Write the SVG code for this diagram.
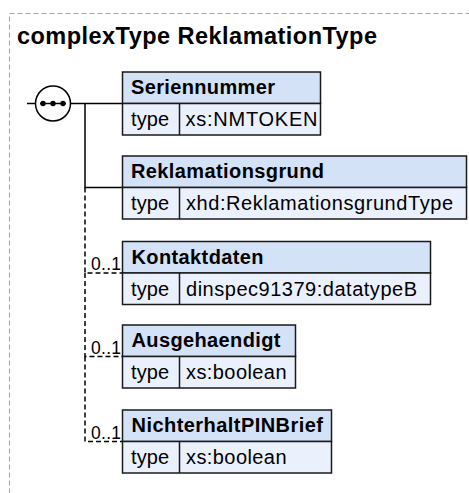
<svg xmlns="http://www.w3.org/2000/svg" width="469" height="493" viewBox="0 0 469 493">
<style>
.frame{fill:none;stroke:#a6a6a6;stroke-width:1;stroke-dasharray:5,3}
.title{font-family:"Liberation Sans",Arial,sans-serif;font-weight:bold;font-size:23.5px;fill:#000}
.box{stroke:#1a1a1a;stroke-width:1.5}
.hdr{fill:#d4e2f8}
.row{fill:#eaf1fc}
.sep{stroke:#1a1a1a;stroke-width:1.5;fill:none}
.name{font-family:"Liberation Sans",Arial,sans-serif;font-weight:bold;font-size:20px;fill:#000}
.val{font-family:"Liberation Sans",Arial,sans-serif;font-size:20px;fill:#000}
.occ{font-family:"Liberation Sans",Arial,sans-serif;font-size:17.5px;fill:#000;text-anchor:end}
.solid{fill:none;stroke:#000;stroke-width:1.5}
.dash{fill:none;stroke:#000;stroke-width:1.5;stroke-dasharray:5,3}
</style>
<rect class="frame" x="9.5" y="13.5" width="480" height="500"/>
<text class="title" x="17" y="44" textLength="360" lengthAdjust="spacing">complexType ReklamationType</text>

<g id="sequence">
<line class="solid" x1="27" y1="103.5" x2="35.5" y2="103.5"/>
<circle cx="53" cy="103.5" r="17.5" fill="#fff" stroke="#000" stroke-width="1.5"/>
<line class="solid" x1="40" y1="103.5" x2="66" y2="103.5"/>
<circle cx="43" cy="103.5" r="2.7" fill="#000"/>
<circle cx="53" cy="103.5" r="2.7" fill="#000"/>
<circle cx="63" cy="103.5" r="2.7" fill="#000"/>
</g>

<g id="connectors">
<path class="solid" d="M70.5,103.5 H122.5"/>
<path class="solid" d="M85,103.5 V187.5 H122.5"/>
<path class="dash" d="M85,187.5 V273 H122.5"/>
<path class="dash" d="M85,273 V356.5 H122.5"/>
<path class="dash" d="M85,356.5 V441.5 H122.5"/>
<text class="occ" x="121" y="270" textLength="30" lengthAdjust="spacing">0..1</text>
<text class="occ" x="121" y="353.5" textLength="30" lengthAdjust="spacing">0..1</text>
<text class="occ" x="121" y="438.5" textLength="30" lengthAdjust="spacing">0..1</text>
</g>

<g id="Seriennummer">
<rect class="box hdr" x="122.5" y="72" width="198" height="31.5"/>
<rect class="box row" x="122.5" y="103.5" width="198" height="31.5"/>
<line class="sep" x1="179.5" y1="103.5" x2="179.5" y2="135"/>
<text class="name" x="131" y="94" textLength="144" lengthAdjust="spacing">Seriennummer</text>
<text class="val" x="131" y="126" textLength="38" lengthAdjust="spacing">type</text>
<text class="val" x="185.5" y="126" textLength="132" lengthAdjust="spacing">xs:NMTOKEN</text>
</g>

<g id="Reklamationsgrund">
<rect class="box hdr" x="122.5" y="156" width="344" height="31.5"/>
<rect class="box row" x="122.5" y="187.5" width="344" height="31.5"/>
<line class="sep" x1="179.5" y1="187.5" x2="179.5" y2="219"/>
<text class="name" x="131" y="178" textLength="193" lengthAdjust="spacing">Reklamationsgrund</text>
<text class="val" x="131" y="210" textLength="38" lengthAdjust="spacing">type</text>
<text class="val" x="186" y="210" textLength="267" lengthAdjust="spacing">xhd:ReklamationsgrundType</text>
</g>

<g id="Kontaktdaten">
<rect class="box hdr" x="122.5" y="241.5" width="308" height="31.5"/>
<rect class="box row" x="122.5" y="273" width="308" height="31.5"/>
<line class="sep" x1="179.5" y1="273" x2="179.5" y2="304.5"/>
<text class="name" x="131.5" y="263.5" textLength="132" lengthAdjust="spacing">Kontaktdaten</text>
<text class="val" x="131" y="295.5" textLength="38" lengthAdjust="spacing">type</text>
<text class="val" x="186" y="295.5" textLength="231" lengthAdjust="spacing">dinspec91379:datatypeB</text>
</g>

<g id="Ausgehaendigt">
<rect class="box hdr" x="122.5" y="325" width="173" height="31.5"/>
<rect class="box row" x="122.5" y="356.5" width="173" height="31.5"/>
<line class="sep" x1="179.5" y1="356.5" x2="179.5" y2="388"/>
<text class="name" x="131.5" y="347" textLength="149" lengthAdjust="spacing">Ausgehaendigt</text>
<text class="val" x="131" y="379" textLength="38" lengthAdjust="spacing">type</text>
<text class="val" x="186" y="379" textLength="100.5" lengthAdjust="spacing">xs:boolean</text>
</g>

<g id="NichterhaltPINBrief">
<rect class="box hdr" x="122.5" y="410" width="209" height="31.5"/>
<rect class="box row" x="122.5" y="441.5" width="209" height="31.5"/>
<line class="sep" x1="179.5" y1="441.5" x2="179.5" y2="473"/>
<text class="name" x="131.5" y="432" textLength="191.5" lengthAdjust="spacing">NichterhaltPINBrief</text>
<text class="val" x="131" y="464" textLength="38" lengthAdjust="spacing">type</text>
<text class="val" x="186" y="464" textLength="100.5" lengthAdjust="spacing">xs:boolean</text>
</g>
</svg>
